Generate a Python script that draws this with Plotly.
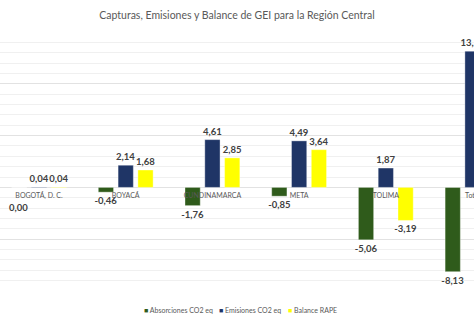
import plotly.graph_objects as go

# Regional GHG inventory (Mt CO2 eq)
categorias = ["BOGOTÁ, D. C.", "BOYACÁ", "CUNDINAMARCA", "META", "TOLIMA", "Total"]
absorciones = [0.00, -0.46, -1.76, -0.85, -5.06, -8.13]
emisiones = [0.04, 2.14, 4.61, 4.49, 1.87, 13.15]
balance = [0.04, 1.68, 2.85, 3.64, -3.19, 5.02]

series = [
    ("Absorciones CO2 eq", absorciones, "#2F5B1B"),
    ("Emisiones CO2 eq", emisiones, "#1F3566"),
    ("Balance RAPE", balance, "#FFFF00"),
]

y_min, y_max = -10, 15
FONT = "Lato, Carlito, sans-serif"
label_font = dict(family=FONT, size=9.5, color="#404040")


def fmt(v):
    return f"{v:.2f}".replace(".", ",")


fig = go.Figure()
for nombre, valores, color in series:
    # zero-height bars get their label placed below the axis separately
    textos = [f"<b>{fmt(v)}</b>" if v != 0 else "" for v in valores]
    fig.add_trace(go.Bar(
        name=nombre,
        x=categorias,
        y=valores,
        marker=dict(color=color, line=dict(color="rgba(255,255,255,0.6)", width=0.6)),
        text=textos,
        texttemplate="%{text}",
        textposition="outside",
        textfont=label_font,
        constraintext="none",
        cliponaxis=False,
        showlegend=False,
    ))

# label for the zero absorption bar, drawn under the axis like the other negatives
for cat, v in zip(categorias, absorciones):
    if v == 0:
        fig.add_annotation(
            x=cat, y=v, xref="x", yref="y", text=f"<b>{fmt(v)}</b>",
            showarrow=False, xshift=-21, yshift=-13, yanchor="top",
            font=label_font,
        )

# compact legend: small coloured squares followed by the series name
leyenda_x = [0.300, 0.458, 0.603]
for (nombre, _, color), lx in zip(series, leyenda_x):
    fig.add_annotation(
        x=lx, y=-0.073, xref="paper", yref="paper", xanchor="left", yanchor="middle",
        text=f"<span style='color:{color};font-size:7px'>■</span> {nombre}",
        showarrow=False, font=dict(family=FONT, size=7, color="#595959"),
    )

fig.update_layout(
    width=474,
    height=324,
    margin=dict(l=0, r=0, t=32, b=33),
    paper_bgcolor="white",
    plot_bgcolor="white",
    separators=",.",
    barmode="group",
    bargap=0.315,
    bargroupgap=0.23,
    showlegend=False,
    title=dict(
        text="Capturas, Emisiones y Balance de GEI para la Región Central",
        x=0.5, xanchor="center", y=1 - 15 / 324, yanchor="middle",
        font=dict(family=FONT, size=10.5, color="#595959"),
    ),
    font=dict(family=FONT),
)

fig.update_yaxes(
    range=[y_min, y_max],
    dtick=5,
    showticklabels=False,
    showgrid=True,
    gridcolor="#E2E2E2",
    gridwidth=1,
    zeroline=True,
    zerolinecolor="#E2E2E2",
    zerolinewidth=1,
    minor=dict(dtick=1, showgrid=True, gridcolor="#F0F0F0", gridwidth=1),
    automargin=False,
    fixedrange=True,
)

fig.update_xaxes(
    range=[-0.45, 5.017],
    anchor="free",
    position=(0 - y_min) / (y_max - y_min),
    showline=False,
    showgrid=False,
    ticks="",
    tickfont=dict(family=FONT, size=7, color="#595959"),
    ticklabelstandoff=3,
    automargin=False,
    layer="above traces",
)

fig.write_html("out.html")
